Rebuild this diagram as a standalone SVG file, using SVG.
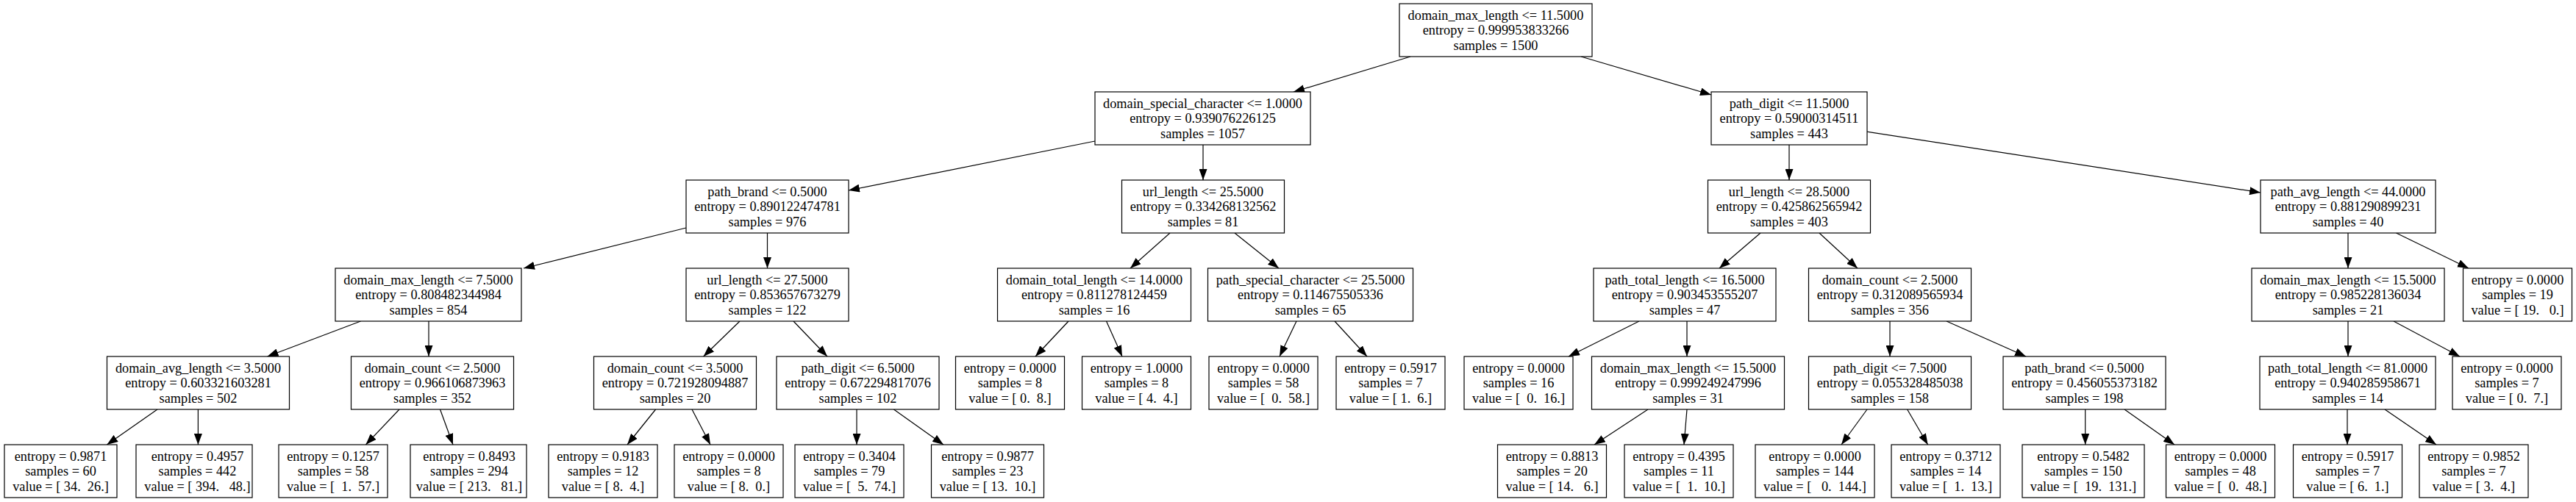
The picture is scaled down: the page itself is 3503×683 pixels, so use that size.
<svg xmlns="http://www.w3.org/2000/svg" width="3503" height="683" viewBox="0 0 3503 683">
<style>
rect.n { fill:#fff; stroke:#000; stroke-width:1.2; }
text { font-family:"Liberation Serif","Times New Roman",serif; font-size:18.3px; fill:#000; text-anchor:middle; white-space:pre; }
#edges line { stroke:#000; stroke-width:1.2; fill:none; marker-end:url(#ah); }
</style>
<defs>
<marker id="ah" markerUnits="userSpaceOnUse" markerWidth="15" markerHeight="11" refX="15" refY="5.5" orient="auto"><path d="M0,0 L15,5.5 L0,11 Z" fill="#000"/></marker>
</defs>
<rect width="3503" height="683" fill="#fff"/>
<g id="edges">
<line x1="1918" y1="77" x2="1759" y2="125"/>
<line x1="2150" y1="77" x2="2327" y2="129"/>
<line x1="1489" y1="192" x2="1154" y2="259"/>
<line x1="1636" y1="197" x2="1636" y2="245"/>
<line x1="2433" y1="197" x2="2433" y2="245"/>
<line x1="2538" y1="179" x2="3074" y2="262"/>
<line x1="933" y1="310" x2="712" y2="365"/>
<line x1="1043.5" y1="317" x2="1043.5" y2="365"/>
<line x1="1591" y1="317" x2="1537" y2="365"/>
<line x1="1679" y1="317" x2="1739" y2="365"/>
<line x1="2394" y1="317" x2="2338" y2="365"/>
<line x1="2474" y1="317" x2="2526" y2="365"/>
<line x1="3193" y1="317" x2="3193" y2="365"/>
<line x1="3258.5" y1="317" x2="3357" y2="365"/>
<line x1="490.5" y1="437" x2="363.5" y2="485"/>
<line x1="583" y1="437" x2="583" y2="485"/>
<line x1="1006" y1="437" x2="956.6" y2="485"/>
<line x1="1079" y1="437" x2="1125" y2="485"/>
<line x1="1453" y1="437" x2="1408" y2="485"/>
<line x1="1504.5" y1="437" x2="1526" y2="485"/>
<line x1="1763" y1="437" x2="1740" y2="485"/>
<line x1="1815" y1="437" x2="1859" y2="485"/>
<line x1="2229" y1="437" x2="2133" y2="485"/>
<line x1="2294" y1="437" x2="2294" y2="485"/>
<line x1="2570" y1="437" x2="2570" y2="485"/>
<line x1="2647" y1="437" x2="2755" y2="485"/>
<line x1="3193" y1="437" x2="3193" y2="485"/>
<line x1="3255" y1="437" x2="3345" y2="485"/>
<line x1="214" y1="557" x2="145.4" y2="605"/>
<line x1="269.4" y1="557" x2="269.4" y2="605"/>
<line x1="543" y1="557" x2="497.4" y2="605"/>
<line x1="598.5" y1="557" x2="616" y2="605"/>
<line x1="891.6" y1="557" x2="853" y2="605"/>
<line x1="941" y1="557" x2="966" y2="605"/>
<line x1="1165" y1="557" x2="1165" y2="605"/>
<line x1="1215.4" y1="557" x2="1283" y2="605"/>
<line x1="2241" y1="557" x2="2168" y2="605"/>
<line x1="2294" y1="557" x2="2290" y2="605"/>
<line x1="2539" y1="557" x2="2504" y2="605"/>
<line x1="2593.6" y1="557" x2="2621.6" y2="605"/>
<line x1="2835.7" y1="557" x2="2835.7" y2="605"/>
<line x1="2889" y1="557" x2="2957" y2="605"/>
<line x1="3192" y1="557" x2="3192" y2="605"/>
<line x1="3243" y1="557" x2="3313" y2="605"/>
</g>
<g id="n0"><rect class="n" x="1903" y="5" width="262" height="72"/><text><tspan x="2034" y="26.5">domain_max_length &lt;= 11.5000</tspan><tspan x="2034" y="47">entropy = 0.999953833266</tspan><tspan x="2034" y="67.5">samples = 1500</tspan></text></g>
<g id="n1"><rect class="n" x="1489" y="125" width="293" height="72"/><text><tspan x="1635.5" y="146.5">domain_special_character &lt;= 1.0000</tspan><tspan x="1635.5" y="167">entropy = 0.939076226125</tspan><tspan x="1635.5" y="187.5">samples = 1057</tspan></text></g>
<g id="n2"><rect class="n" x="2327" y="125" width="212" height="72"/><text><tspan x="2433" y="146.5">path_digit &lt;= 11.5000</tspan><tspan x="2433" y="167">entropy = 0.59000314511</tspan><tspan x="2433" y="187.5">samples = 443</tspan></text></g>
<g id="n3"><rect class="n" x="933" y="245" width="221" height="72"/><text><tspan x="1043.5" y="266.5">path_brand &lt;= 0.5000</tspan><tspan x="1043.5" y="287">entropy = 0.890122474781</tspan><tspan x="1043.5" y="307.5">samples = 976</tspan></text></g>
<g id="n4"><rect class="n" x="1525.5" y="245" width="221" height="72"/><text><tspan x="1636" y="266.5">url_length &lt;= 25.5000</tspan><tspan x="1636" y="287">entropy = 0.334268132562</tspan><tspan x="1636" y="307.5">samples = 81</tspan></text></g>
<g id="n5"><rect class="n" x="2322.5" y="245" width="221" height="72"/><text><tspan x="2433" y="266.5">url_length &lt;= 28.5000</tspan><tspan x="2433" y="287">entropy = 0.425862565942</tspan><tspan x="2433" y="307.5">samples = 403</tspan></text></g>
<g id="n6"><rect class="n" x="3074" y="245" width="238" height="72"/><text><tspan x="3193" y="266.5">path_avg_length &lt;= 44.0000</tspan><tspan x="3193" y="287">entropy = 0.881290899231</tspan><tspan x="3193" y="307.5">samples = 40</tspan></text></g>
<g id="n7"><rect class="n" x="456" y="365" width="253" height="72"/><text><tspan x="582.5" y="386.5">domain_max_length &lt;= 7.5000</tspan><tspan x="582.5" y="407">entropy = 0.808482344984</tspan><tspan x="582.5" y="427.5">samples = 854</tspan></text></g>
<g id="n8"><rect class="n" x="933" y="365" width="221" height="72"/><text><tspan x="1043.5" y="386.5">url_length &lt;= 27.5000</tspan><tspan x="1043.5" y="407">entropy = 0.853657673279</tspan><tspan x="1043.5" y="427.5">samples = 122</tspan></text></g>
<g id="n9"><rect class="n" x="1356.5" y="365" width="263" height="72"/><text><tspan x="1488" y="386.5">domain_total_length &lt;= 14.0000</tspan><tspan x="1488" y="407">entropy = 0.811278124459</tspan><tspan x="1488" y="427.5">samples = 16</tspan></text></g>
<g id="n10"><rect class="n" x="1642.5" y="365" width="279" height="72"/><text><tspan x="1782" y="386.5">path_special_character &lt;= 25.5000</tspan><tspan x="1782" y="407">entropy = 0.114675505336</tspan><tspan x="1782" y="427.5">samples = 65</tspan></text></g>
<g id="n11"><rect class="n" x="2167" y="365" width="248" height="72"/><text><tspan x="2291" y="386.5">path_total_length &lt;= 16.5000</tspan><tspan x="2291" y="407">entropy = 0.903453555207</tspan><tspan x="2291" y="427.5">samples = 47</tspan></text></g>
<g id="n12"><rect class="n" x="2459.5" y="365" width="221" height="72"/><text><tspan x="2570" y="386.5">domain_count &lt;= 2.5000</tspan><tspan x="2570" y="407">entropy = 0.312089565934</tspan><tspan x="2570" y="427.5">samples = 356</tspan></text></g>
<g id="n13"><rect class="n" x="3062" y="365" width="262" height="72"/><text><tspan x="3193" y="386.5">domain_max_length &lt;= 15.5000</tspan><tspan x="3193" y="407">entropy = 0.985228136034</tspan><tspan x="3193" y="427.5">samples = 21</tspan></text></g>
<g id="n14"><rect class="n" x="3349.5" y="365" width="148" height="72"/><text><tspan x="3423.5" y="386.5">entropy = 0.0000</tspan><tspan x="3423.5" y="407">samples = 19</tspan><tspan x="3423.5" y="427.5">value = [ 19.   0.]</tspan></text></g>
<g id="n15"><rect class="n" x="145.5" y="485" width="248" height="72"/><text><tspan x="269.5" y="506.5">domain_avg_length &lt;= 3.5000</tspan><tspan x="269.5" y="527">entropy = 0.603321603281</tspan><tspan x="269.5" y="547.5">samples = 502</tspan></text></g>
<g id="n16"><rect class="n" x="477.5" y="485" width="221" height="72"/><text><tspan x="588" y="506.5">domain_count &lt;= 2.5000</tspan><tspan x="588" y="527">entropy = 0.966106873963</tspan><tspan x="588" y="547.5">samples = 352</tspan></text></g>
<g id="n17"><rect class="n" x="807.5" y="485" width="221" height="72"/><text><tspan x="918" y="506.5">domain_count &lt;= 3.5000</tspan><tspan x="918" y="527">entropy = 0.721928094887</tspan><tspan x="918" y="547.5">samples = 20</tspan></text></g>
<g id="n18"><rect class="n" x="1056" y="485" width="221" height="72"/><text><tspan x="1166.5" y="506.5">path_digit &lt;= 6.5000</tspan><tspan x="1166.5" y="527">entropy = 0.672294817076</tspan><tspan x="1166.5" y="547.5">samples = 102</tspan></text></g>
<g id="n19"><rect class="n" x="1299.5" y="485" width="148" height="72"/><text><tspan x="1373.5" y="506.5">entropy = 0.0000</tspan><tspan x="1373.5" y="527">samples = 8</tspan><tspan x="1373.5" y="547.5">value = [ 0.  8.]</tspan></text></g>
<g id="n20"><rect class="n" x="1471.5" y="485" width="148" height="72"/><text><tspan x="1545.5" y="506.5">entropy = 1.0000</tspan><tspan x="1545.5" y="527">samples = 8</tspan><tspan x="1545.5" y="547.5">value = [ 4.  4.]</tspan></text></g>
<g id="n21"><rect class="n" x="1644" y="485" width="148" height="72"/><text><tspan x="1718" y="506.5">entropy = 0.0000</tspan><tspan x="1718" y="527">samples = 58</tspan><tspan x="1718" y="547.5">value = [  0.  58.]</tspan></text></g>
<g id="n22"><rect class="n" x="1817" y="485" width="148" height="72"/><text><tspan x="1891" y="506.5">entropy = 0.5917</tspan><tspan x="1891" y="527">samples = 7</tspan><tspan x="1891" y="547.5">value = [ 1.  6.]</tspan></text></g>
<g id="n23"><rect class="n" x="1991" y="485" width="148" height="72"/><text><tspan x="2065" y="506.5">entropy = 0.0000</tspan><tspan x="2065" y="527">samples = 16</tspan><tspan x="2065" y="547.5">value = [  0.  16.]</tspan></text></g>
<g id="n24"><rect class="n" x="2164.5" y="485" width="262" height="72"/><text><tspan x="2295.5" y="506.5">domain_max_length &lt;= 15.5000</tspan><tspan x="2295.5" y="527">entropy = 0.999249247996</tspan><tspan x="2295.5" y="547.5">samples = 31</tspan></text></g>
<g id="n25"><rect class="n" x="2459.5" y="485" width="221" height="72"/><text><tspan x="2570" y="506.5">path_digit &lt;= 7.5000</tspan><tspan x="2570" y="527">entropy = 0.055328485038</tspan><tspan x="2570" y="547.5">samples = 158</tspan></text></g>
<g id="n26"><rect class="n" x="2724" y="485" width="221" height="72"/><text><tspan x="2834.5" y="506.5">path_brand &lt;= 0.5000</tspan><tspan x="2834.5" y="527">entropy = 0.456055373182</tspan><tspan x="2834.5" y="547.5">samples = 198</tspan></text></g>
<g id="n27"><rect class="n" x="3073" y="485" width="239" height="72"/><text><tspan x="3192.5" y="506.5">path_total_length &lt;= 81.0000</tspan><tspan x="3192.5" y="527">entropy = 0.940285958671</tspan><tspan x="3192.5" y="547.5">samples = 14</tspan></text></g>
<g id="n28"><rect class="n" x="3335" y="485" width="148" height="72"/><text><tspan x="3409" y="506.5">entropy = 0.0000</tspan><tspan x="3409" y="527">samples = 7</tspan><tspan x="3409" y="547.5">value = [ 0.  7.]</tspan></text></g>
<g id="n29"><rect class="n" x="6" y="605" width="153" height="72"/><text><tspan x="82.5" y="626.5">entropy = 0.9871</tspan><tspan x="82.5" y="647">samples = 60</tspan><tspan x="82.5" y="667.5">value = [ 34.  26.]</tspan></text></g>
<g id="n30"><rect class="n" x="185" y="605" width="158" height="72"/><text><tspan x="268.5" y="626.5">entropy = 0.4957</tspan><tspan x="268.5" y="647">samples = 442</tspan><tspan x="268.5" y="667.5">value = [ 394.   48.]</tspan></text></g>
<g id="n31"><rect class="n" x="379" y="605" width="148" height="72"/><text><tspan x="453" y="626.5">entropy = 0.1257</tspan><tspan x="453" y="647">samples = 58</tspan><tspan x="453" y="667.5">value = [  1.  57.]</tspan></text></g>
<g id="n32"><rect class="n" x="558" y="605" width="158" height="72"/><text><tspan x="638" y="626.5">entropy = 0.8493</tspan><tspan x="638" y="647">samples = 294</tspan><tspan x="638" y="667.5">value = [ 213.   81.]</tspan></text></g>
<g id="n33"><rect class="n" x="746" y="605" width="148" height="72"/><text><tspan x="820" y="626.5">entropy = 0.9183</tspan><tspan x="820" y="647">samples = 12</tspan><tspan x="820" y="667.5">value = [ 8.  4.]</tspan></text></g>
<g id="n34"><rect class="n" x="917" y="605" width="148" height="72"/><text><tspan x="991" y="626.5">entropy = 0.0000</tspan><tspan x="991" y="647">samples = 8</tspan><tspan x="991" y="667.5">value = [ 8.  0.]</tspan></text></g>
<g id="n35"><rect class="n" x="1081" y="605" width="148" height="72"/><text><tspan x="1155" y="626.5">entropy = 0.3404</tspan><tspan x="1155" y="647">samples = 79</tspan><tspan x="1155" y="667.5">value = [  5.  74.]</tspan></text></g>
<g id="n36"><rect class="n" x="1266.5" y="605" width="153" height="72"/><text><tspan x="1343" y="626.5">entropy = 0.9877</tspan><tspan x="1343" y="647">samples = 23</tspan><tspan x="1343" y="667.5">value = [ 13.  10.]</tspan></text></g>
<g id="n37"><rect class="n" x="2036.5" y="605" width="148" height="72"/><text><tspan x="2110.5" y="626.5">entropy = 0.8813</tspan><tspan x="2110.5" y="647">samples = 20</tspan><tspan x="2110.5" y="667.5">value = [ 14.   6.]</tspan></text></g>
<g id="n38"><rect class="n" x="2209" y="605" width="148" height="72"/><text><tspan x="2283" y="626.5">entropy = 0.4395</tspan><tspan x="2283" y="647">samples = 11</tspan><tspan x="2283" y="667.5">value = [  1.  10.]</tspan></text></g>
<g id="n39"><rect class="n" x="2387" y="605" width="162" height="72"/><text><tspan x="2468" y="626.5">entropy = 0.0000</tspan><tspan x="2468" y="647">samples = 144</tspan><tspan x="2468" y="667.5">value = [   0.  144.]</tspan></text></g>
<g id="n40"><rect class="n" x="2572" y="605" width="148" height="72"/><text><tspan x="2646" y="626.5">entropy = 0.3712</tspan><tspan x="2646" y="647">samples = 14</tspan><tspan x="2646" y="667.5">value = [  1.  13.]</tspan></text></g>
<g id="n41"><rect class="n" x="2750" y="605" width="166" height="72"/><text><tspan x="2833" y="626.5">entropy = 0.5482</tspan><tspan x="2833" y="647">samples = 150</tspan><tspan x="2833" y="667.5">value = [  19.  131.]</tspan></text></g>
<g id="n42"><rect class="n" x="2945.5" y="605" width="148" height="72"/><text><tspan x="3019.5" y="626.5">entropy = 0.0000</tspan><tspan x="3019.5" y="647">samples = 48</tspan><tspan x="3019.5" y="667.5">value = [  0.  48.]</tspan></text></g>
<g id="n43"><rect class="n" x="3118.5" y="605" width="148" height="72"/><text><tspan x="3192.5" y="626.5">entropy = 0.5917</tspan><tspan x="3192.5" y="647">samples = 7</tspan><tspan x="3192.5" y="667.5">value = [ 6.  1.]</tspan></text></g>
<g id="n44"><rect class="n" x="3290" y="605" width="148" height="72"/><text><tspan x="3364" y="626.5">entropy = 0.9852</tspan><tspan x="3364" y="647">samples = 7</tspan><tspan x="3364" y="667.5">value = [ 3.  4.]</tspan></text></g>
</svg>
